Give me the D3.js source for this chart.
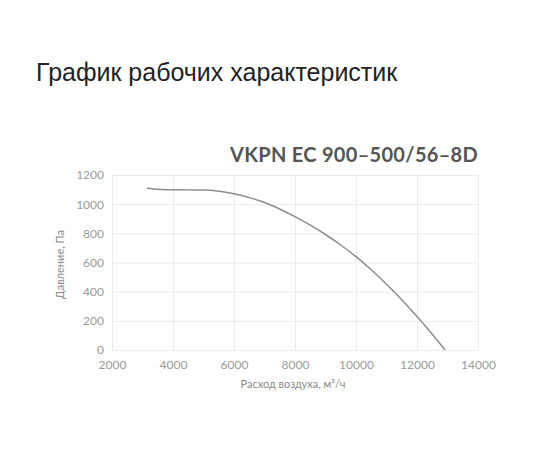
<!DOCTYPE html>
<html>
<head>
<meta charset="utf-8">
<script src="https://cdn.jsdelivr.net/npm/d3@7"></script>
<style>
  body { margin: 0; background: #fff; }
  svg text { font-family: "Lato", "DejaVu Sans", sans-serif; }
  .page-title { font-family: "Liberation Sans", Arial, sans-serif !important; font-size: 25px; fill: #222; }
  .model-title { font-size: 20px; font-weight: 700; fill: #555; letter-spacing: 0.3px; }
  .axis text { font-size: 12px; fill: #9a9a9a; }
  .axis-title { font-size: 11px; fill: #8a8a8a; }
  .grid line { stroke: #ececec; stroke-width: 1; }
</style>
</head>
<body>
<svg id="chart"></svg>
<script>
// airflow, m3/h
const flow = [3150, 3500, 4000, 4500, 5000, 5500, 6000, 6500, 7000, 7500, 8000,
  8500, 9000, 9500, 10000, 10500, 11000, 11500, 12000, 12500, 12920];
// pressure, Pa
const pressure = [1110, 1103, 1099, 1098, 1097, 1089, 1071, 1045, 1011, 967, 914,
  856, 792, 720, 640, 550, 451, 345, 229, 108, 0];

const xTicks = [2000, 4000, 6000, 8000, 10000, 12000, 14000];
const yTicks = [0, 200, 400, 600, 800, 1000, 1200];

const pageTitle = "График рабочих характеристик";
const modelTitle = "VKPN EC 900–500/56–8D";
const xLabel = "Расход воздуха, м³/ч";
const yLabel = "Давление, Па";

const width = 550, height = 450;
const margin = { top: 175, right: 72, bottom: 100, left: 112 };
const innerW = width - margin.left - margin.right;
const innerH = height - margin.top - margin.bottom;

const svg = d3.select("#chart").attr("width", width).attr("height", height);

svg.append("text").attr("class", "page-title")
  .attr("x", 36).attr("y", 81).text(pageTitle);

svg.append("text").attr("class", "model-title")
  .attr("x", margin.left + innerW).attr("y", 162)
  .attr("text-anchor", "end").text(modelTitle);

const chart = svg.append("g")
  .attr("transform", `translate(${margin.left},${margin.top})`);

const x = d3.scaleLinear().domain([2000, 14000]).range([0, innerW]);
const y = d3.scaleLinear().domain([0, 1200]).range([innerH, 0]);

// gridlines
chart.append("g").attr("class", "grid")
  .attr("transform", `translate(0,${innerH})`)
  .call(d3.axisBottom(x).tickValues(xTicks).tickSize(-innerH).tickFormat(""))
  .call(g => g.select(".domain").remove());
chart.append("g").attr("class", "grid")
  .call(d3.axisLeft(y).tickValues(yTicks).tickSize(-innerW).tickFormat(""))
  .call(g => g.select(".domain").remove());

// axes (labels only)
chart.append("g").attr("class", "axis")
  .attr("transform", `translate(0,${innerH})`)
  .call(d3.axisBottom(x).tickValues(xTicks).tickSize(0).tickPadding(10).tickFormat(d => d))
  .call(g => g.select(".domain").remove());
chart.append("g").attr("class", "axis")
  .call(d3.axisLeft(y).tickValues(yTicks).tickSize(0).tickPadding(8).tickFormat(d => d))
  .call(g => g.select(".domain").remove());

chart.append("text").attr("class", "axis-title")
  .attr("x", innerW / 2 - 2).attr("y", innerH + 38)
  .attr("text-anchor", "middle").text(xLabel);

chart.append("text").attr("class", "axis-title")
  .attr("transform", `translate(-48,${innerH / 2 + 2}) rotate(-90)`)
  .attr("text-anchor", "middle").text(yLabel);

// curve
const pts = flow.map((f, i) => [f, pressure[i]]);
chart.append("path")
  .datum(pts)
  .attr("fill", "none")
  .attr("stroke", "#8c8c8c")
  .attr("stroke-width", 1.5)
  .attr("d", d3.line().x(d => x(d[0])).y(d => y(d[1])).curve(d3.curveMonotoneX));
</script>
</body>
</html>
